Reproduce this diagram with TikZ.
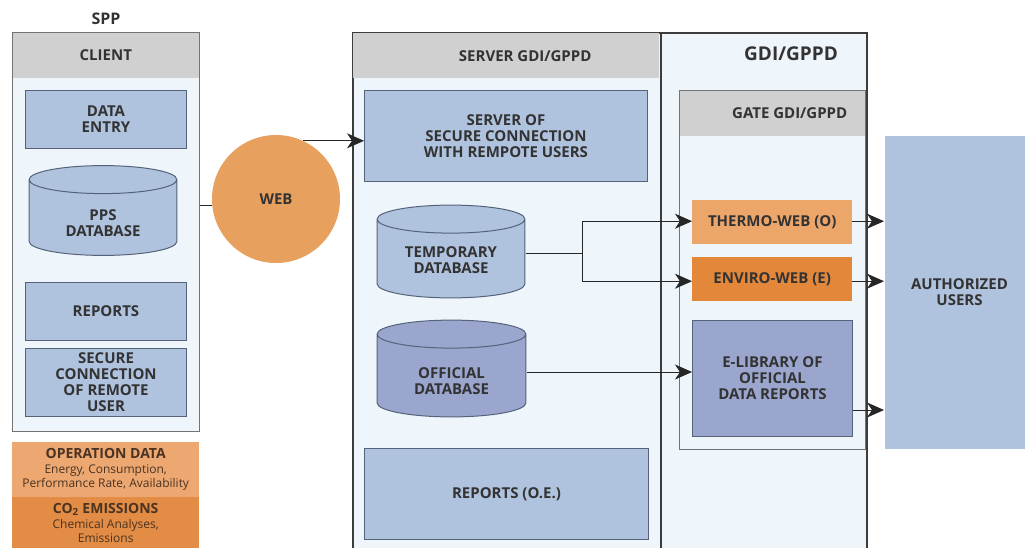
\documentclass[tikz,border=0pt]{standalone}
\usepackage{fontspec}
\setsansfont{Open Sans}
\usetikzlibrary{positioning, arrows.meta, calc}
\definecolor{panelbg}{HTML}{EEF5FB}
\definecolor{headgray}{HTML}{D0D0D0}
\definecolor{boxblue}{HTML}{AFC2DE}
\definecolor{boxdark}{HTML}{9AA6CE}
\definecolor{boxline}{HTML}{55637A}
\definecolor{framegray}{HTML}{3C3C3C}
\definecolor{textgray}{HTML}{333333}
\definecolor{webor}{HTML}{E8A05E}
\definecolor{thermor}{HTML}{ECA66A}
\definecolor{enviror}{HTML}{E3873A}
\definecolor{legtop}{HTML}{EDA872}
\definecolor{legbot}{HTML}{E38C45}
\definecolor{legtext}{HTML}{4A3322}
\newcommand{\keyhead}[1]{{\bfseries\fontsize{14}{15}\selectfont #1}}

\begin{document}
\begin{tikzpicture}[
                    % GLOBAL CFG
                    x=1pt, y=-1pt,
                    font=\sffamily\bfseries\fontsize{15}{16}\selectfont,
                    >={Stealth[length=17pt,width=15pt,inset=5pt]},
                    % Styles
                    panel/.style={% For the big frames
                            rectangle,
                            draw=framegray,
                            fill=panelbg,
                            line width=1.2pt,
                            anchor=north west,
                            inner sep=0pt,
                        },
                    header/.style={% For the grey title strips
                            rectangle,
                            fill=headgray,
                            text=textgray,
                            anchor=north west,
                            inner sep=0pt,
                        },
                    unit/.style={% For the blue blocks
                            rectangle,
                            draw=boxline,
                            fill=boxblue,
                            line width=1pt,
                            text=textgray,
                            align=center,
                            anchor=north west,
                            inner sep=0pt,
                        },
                    db/.style={% For the databases, drawn inside the node box
                            rectangle,
                            text=textgray,
                            align=center,
                            inner sep=0pt,
                            path picture={
                                \path [draw=boxline, fill=#1, line width=1pt]
                                    let \p1=(path picture bounding box.north west),
                                        \p2=(path picture bounding box.south east)
                                    in (\x1+0.6pt, \y1-14.6pt) -- (\x1+0.6pt, \y2+14.6pt)
                                    arc [start angle=180, end angle=360, x radius={(\x2-\x1)/2-0.6pt}, y radius=14pt]
                                    -- (\x2-0.6pt, \y1-14.6pt)
                                    arc [start angle=0, end angle=180, x radius={(\x2-\x1)/2-0.6pt}, y radius=14pt]
                                    ({(\x1+\x2)/2}, \y1-14.6pt) ellipse [x radius={(\x2-\x1)/2-0.6pt}, y radius=14pt];
                            },
                        },
                    db/.default=boxblue,
                    gate/.style={% For the web gates
                            rectangle,
                            text=textgray,
                            anchor=north west,
                            inner sep=0pt,
                            minimum width=160,
                            minimum height=44,
                        },
                    legend/.style={% For the data key
                            rectangle,
                            text=legtext,
                            align=center,
                            anchor=north west,
                            inner sep=0pt,
                            minimum width=187,
                            font=\sffamily\mdseries\fontsize{12}{14.5}\selectfont,
                        },
                    link/.style={% Plain connectors
                            draw=black!85,
                            line width=1pt,
                        },
                ]
                \useasboundingbox (0,0) rectangle (1025,547);
                \clip (0,0) rectangle (1025,547);

                % Draw the frames
                \node [panel, draw=black!55, minimum width=187, minimum height=399] (client) at (12,32) {};
                \node [header, minimum width=186, minimum height=45] (clienthead) at (12.6,32.6) {CLIENT};
                \node [panel, minimum width=308, minimum height=530, line width=2pt] (server) at (352,32) {};
                \node [header, minimum width=306, minimum height=45] (serverhead) at (353,33) {\hspace*{38pt}SERVER GDI/GPPD};
                \node [panel, minimum width=206, minimum height=530, line width=2pt] (gdi) at (660,32) {};
                \node [panel, draw=black!55, minimum width=186, minimum height=359, line width=1pt] (gatebox) at (679,90) {};
                \node [header, minimum width=185, minimum height=45] (gatehead) at (679.5,90.5) {\hspace*{35pt}GATE GDI/GPPD};

                % Draw titles
                \node [text=textgray, font=\sffamily\bfseries\fontsize{16}{16}\selectfont] (spp) at (106,19) {SPP};
                \node [text=textgray, font=\sffamily\bfseries\fontsize{19}{19}\selectfont] (gdititle) at (791,54) {GDI/GPPD};

                % Draw client blocks
                \node [unit, minimum width=161, minimum height=58] (entry) at (25,90) {DATA\\ENTRY};
                \node [db, minimum width=149, minimum height=91] (ppsdb) at (103,210.5) {\mbox{}\\[20pt]PPS\\DATABASE};
                \node [unit, minimum width=161, minimum height=58] (reports) at (25,282) {REPORTS};
                \node [unit, minimum width=161, minimum height=68] (remote) at (25,348) {SECURE\\CONNECTION\\OF REMOTE\\USER};

                % Draw the key
                \node [legend, fill=legtop, minimum height=55] (opdata) at (12,442) {\keyhead{OPERATION DATA}\\
                    Energy, Consumption,\\Performance Rate, Availability};
                \node [legend, fill=legbot, minimum height=52] (emiss) at (12,497) {\keyhead{CO\textsubscript{2} EMISSIONS}\\
                    Chemical Analyses,\\Emissions};

                % Draw the web
                \node [circle, fill=webor, minimum size=128, text=textgray] (web) at (276,199) {WEB};

                % Draw server blocks
                \node [unit, minimum width=283, minimum height=91] (secsrv) at (364,90) {SERVER OF\\SECURE CONNECTION\\WITH REMPOTE USERS};
                \node [db, minimum width=149, minimum height=94] (tempdb) at (451,251.5) {\mbox{}\\[12pt]TEMPORARY\\DATABASE};
                \node [db=boxdark, minimum width=150, minimum height=98] (offdb) at (451.5,368.5) {\mbox{}\\[20pt]OFFICIAL\\DATABASE};
                \node [unit, minimum width=284, minimum height=91] (repoe) at (364,448) {REPORTS (O.E.)};

                % Draw gate blocks
                \node [gate, fill=thermor] (thermo) at (692,200) {THERMO-WEB (O)};
                \node [gate, fill=enviror] (enviro) at (692,257) {ENVIRO-WEB (E)};
                \node [unit, fill=boxdark, minimum width=160, minimum height=116] (elib) at (692,320) {E-LIBRARY OF\\OFFICIAL\\DATA REPORTS};

                % Draw users
                \node [unit, draw=none, minimum width=150, minimum height=313] (auth) at (884,135) {AUTHORIZED\\USERS};

                % Connect all
                \draw [link] ([yshift=-6pt]web.west -| client.east) -- ([yshift=-6pt]web.west);
                \draw [link, ->] (web.65) -- (web.65 -| secsrv.west);

                \coordinate (split) at (582,253);
                \draw [link] (tempdb.east |- split) -- (split);
                \draw [link, ->] (split) |- ([yshift=1pt]thermo.west);
                \draw [link, ->] (split) |- ([yshift=-2pt]enviro.west);
                \draw [link, ->] (offdb.east |- 0,372) -- (elib.west |- 0,372);

                % Outputs
                \draw [link, ->] ([yshift=1pt]thermo.east) -- ([yshift=1pt]thermo.east -| auth.west);
                \draw [link, ->] ([yshift=-2pt]enviro.east) -- ([yshift=-2pt]enviro.east -| auth.west);
                \draw [link, ->] (elib.east |- 0,410) -- (auth.west |- 0,410);

            \end{tikzpicture}
\end{document}
